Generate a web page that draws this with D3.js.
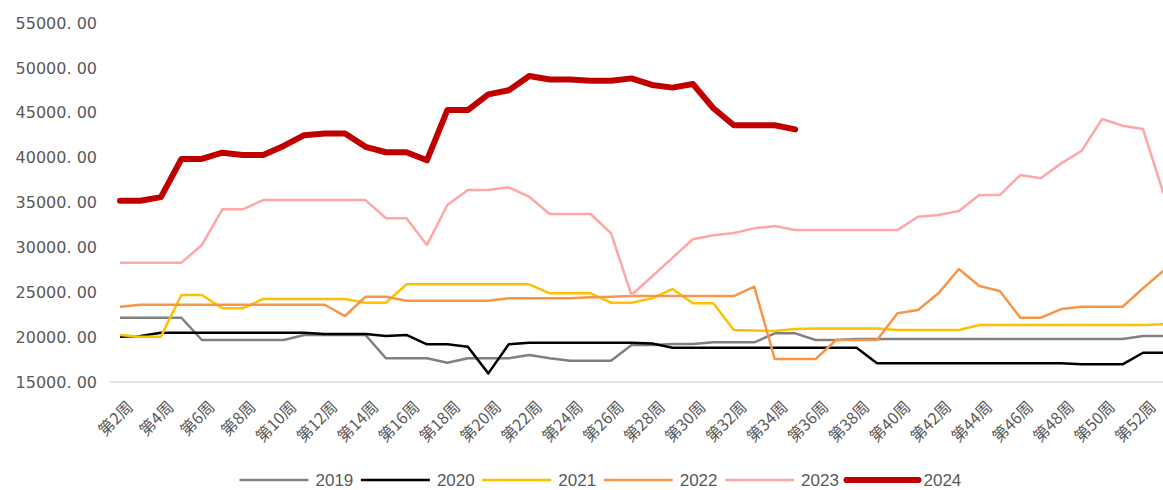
<!DOCTYPE html>
<html>
<head>
<meta charset="utf-8">
<script src="https://cdn.jsdelivr.net/npm/d3@7"></script>
<style>
    body { margin: 0; background: #fff; }
    svg { display: block; }
</style>
</head>
<body>
<div id="chart"></div>
<script>
// weeks 2..53 (only even weeks get a label)
var weeks = d3.range(2, 54).map(function (w) { return "第" + w + "周"; });

var years = ["2019", "2020", "2021", "2022", "2023", "2024"];
var colors = ["#808080", "#000000", "#ffc000", "#f79646", "#ffa6a6", "#c00000"];

var yTicks = [15000, 20000, 25000, 30000, 35000, 40000, 45000, 50000, 55000];

var v2019 = [22160, 22160, 22160, 22160, 19680, 19680, 19680, 19680, 19680, 20240,
    20240, 20240, 20240, 17640, 17640, 17640, 17150, 17640, 17640, 17640,
    18010, 17640, 17370, 17370, 17370, 19120, 19120, 19230, 19230, 19420,
    19420, 19420, 20420, 20420, 19680, 19680, 19790, 19790, 19790, 19790,
    19790, 19790, 19790, 19790, 19790, 19790, 19790, 19790, 19790, 19790,
    20120, 20120];

var v2020 = [20050, 20120, 20490, 20490, 20490, 20490, 20490, 20490, 20490, 20490,
    20350, 20350, 20350, 20120, 20240, 19200, 19200, 18930, 15960, 19200,
    19380, 19380, 19380, 19380, 19380, 19380, 19300, 18810, 18810, 18810,
    18810, 18810, 18810, 18810, 18810, 18810, 18810, 17080, 17080, 17080,
    17080, 17080, 17080, 17080, 17080, 17080, 17080, 16970, 16970, 16970,
    18260, 18260];

var v2021 = [20240, 20050, 20050, 24690, 24690, 23210, 23210, 24250, 24250, 24250,
    24250, 24250, 23830, 23830, 25880, 25880, 25880, 25880, 25880, 25880,
    25880, 24880, 24880, 24880, 23830, 23830, 24320, 25360, 23770, 23770,
    20790, 20740, 20680, 20900, 20950, 20950, 20950, 20950, 20790, 20790,
    20790, 20790, 21350, 21350, 21350, 21350, 21350, 21350, 21350, 21350,
    21350, 21450];

var v2022 = [23390, 23610, 23610, 23610, 23610, 23610, 23610, 23610, 23610, 23610,
    23610, 22350, 24500, 24500, 24060, 24060, 24060, 24060, 24060, 24320,
    24320, 24320, 24320, 24430, 24500, 24580, 24580, 24580, 24580, 24580,
    24580, 25620, 17560, 17560, 17560, 19680, 19680, 19680, 22650, 23020,
    24880, 27590, 25700, 25140, 22160, 22160, 23130, 23390, 23390, 23390,
    25440, 27400];

var v2023 = [28300, 28300, 28300, 28300, 30260, 34240, 34240, 35270, 35270, 35270,
    35270, 35270, 35270, 33240, 33240, 30260, 34720, 36390, 36390, 36690,
    35640, 33720, 33720, 33720, 31570, 24690, 26760, 28830, 30900, 31350,
    31600, 32120, 32380, 31930, 31930, 31930, 31930, 31930, 31930, 33420,
    33600, 34050, 35830, 35830, 38060, 37690, 39360, 40770, 44300, 43550,
    43180, 36000];

var v2024 = [35200, 35200, 35600, 39850, 39850, 40550, 40300, 40300, 41300, 42500,
    42700, 42700, 41200, 40600, 40600, 39700, 45300, 45300, 47050, 47500,
    49100, 48700, 48700, 48560, 48560, 48830, 48100, 47800, 48200, 45500,
    43600, 43600, 43600, 43150];

var seriesValues = [v2019, v2020, v2021, v2022, v2023, v2024];

var width = 1163, height = 490;
var plotLeft = 120, plotRight = 1163.5, plotTop = 23, plotBottom = 382;

var svg = d3.select("#chart")
    .append("svg")
    .attr("width", width)
    .attr("height", height)
    .style("background", "#fff");

var xScale = d3.scalePoint().domain(weeks).range([plotLeft, plotRight]);
var yScale = d3.scaleLinear().domain([15000, 55000]).range([plotBottom, plotTop]);

// y axis labels, no axis line
var yAxis = d3.axisLeft(yScale)
    .tickValues(yTicks)
    .tickSize(0)
    .tickPadding(0)
    .tickFormat(function (d) { return d3.format(".2f")(d).replace(".", ". "); });

svg.append("g")
    .attr("class", "y axis")
    .attr("transform", "translate(97,0)")
    .call(yAxis)
    .call(function (g) { g.select(".domain").remove(); })
    .selectAll("text")
    .attr("fill", "#595959")
    .style("font-family", "'DejaVu Sans', sans-serif")
    .style("font-size", "16px");

// x axis baseline
svg.append("line")
    .attr("x1", 110)
    .attr("x2", width)
    .attr("y1", plotBottom)
    .attr("y2", plotBottom)
    .attr("stroke", "#d9d9d9")
    .attr("stroke-width", 1.5);

// category labels every 2 weeks, rotated
svg.append("g")
    .selectAll("text")
    .data(weeks.filter(function (d, i) { return i % 2 === 0; }))
    .enter()
    .append("text")
    .attr("transform", function (d) {
        return "translate(" + (xScale(d) + 14) + "," + 408 + ") rotate(-45)";
    })
    .attr("text-anchor", "end")
    .attr("fill", "#595959")
    .style("font-family", "'Noto Sans CJK SC', sans-serif")
    .style("font-size", "16px")
    .text(function (d) { return d; });

var line = d3.line()
    .x(function (d, i) { return xScale(weeks[i]); })
    .y(function (d) { return yScale(d); });

seriesValues.forEach(function (vals, k) {
    svg.append("path")
        .attr("d", line(vals))
        .attr("fill", "none")
        .attr("stroke", colors[k])
        .attr("stroke-width", k === 5 ? 6 : 2.5)
        .attr("stroke-linejoin", "round")
        .attr("stroke-linecap", k === 5 ? "round" : "butt");
});

// legend
var legend = svg.append("g")
    .selectAll("g")
    .data(years)
    .enter()
    .append("g")
    .attr("transform", function (d, i) { return "translate(" + (239.5 + i * 121.4) + ",480)"; });

legend.append("line")
    .attr("x1", 0)
    .attr("x2", function (d, i) { return i === 5 ? 72 : 69; })
    .attr("y1", 0)
    .attr("y2", 0)
    .attr("stroke", function (d, i) { return colors[i]; })
    .attr("stroke-width", function (d, i) { return i === 5 ? 6 : 2.5; })
    .attr("stroke-linecap", function (d, i) { return i === 5 ? "round" : "butt"; });

legend.append("text")
    .attr("x", function (d, i) { return i === 5 ? 77 : 76; })
    .attr("y", 6)
    .attr("fill", "#595959")
    .style("font-family", "'Liberation Sans', sans-serif")
    .style("font-size", "17px")
    .text(function (d) { return d; });
</script>
</body>
</html>
